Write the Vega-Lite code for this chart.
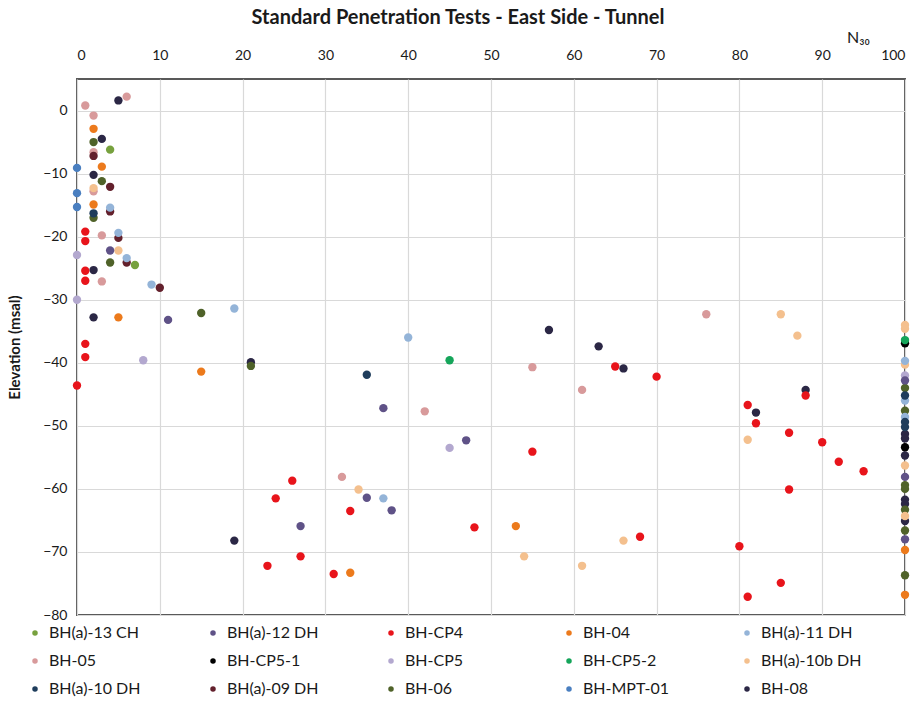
{
  "$schema": "https://vega.github.io/schema/vega-lite/v6.json",
  "width": 828,
  "height": 536,
  "autosize": {"type": "none"},
  "padding": {"left": 77, "top": 79, "right": 10, "bottom": 95},
  "background": "white",
  "title": {
    "text": "Standard Penetration Tests - East Side - Tunnel",
    "font": "Lato",
    "fontSize": 20,
    "fontWeight": "bold",
    "color": "#1a1a1a",
    "anchor": "middle",
    "frame": "group",
    "dx": -33,
    "offset": 1
  },
  "config": {
    "view": {"stroke": "#595959", "strokeWidth": 2},
    "font": "Lato"
  },
  "data": {
    "values": [
      {"s": "BH-CP5-1", "n": 100, "e": -36.9}, {"s": "BH-CP5-1", "n": 100, "e": -53.4},
      {"s": "BH-05", "n": 1, "e": 0.8}, {"s": "BH-05", "n": 6, "e": 2.2}, {"s": "BH-05", "n": 2, "e": -0.8}, {"s": "BH-05", "n": 2, "e": -6.6}, {"s": "BH-05", "n": 2, "e": -12.8}, {"s": "BH-05", "n": 3, "e": -19.8}, {"s": "BH-05", "n": 3, "e": -27.1}, {"s": "BH-05", "n": 32, "e": -58.1}, {"s": "BH-05", "n": 42, "e": -47.7}, {"s": "BH-05", "n": 55, "e": -40.7}, {"s": "BH-05", "n": 61, "e": -44.3}, {"s": "BH-05", "n": 76, "e": -32.3},
      {"s": "BH-08", "n": 5, "e": 1.6}, {"s": "BH-08", "n": 3, "e": -4.5}, {"s": "BH-08", "n": 2, "e": -10.2}, {"s": "BH-08", "n": 2, "e": -25.3}, {"s": "BH-08", "n": 2, "e": -32.8}, {"s": "BH-08", "n": 21, "e": -39.9}, {"s": "BH-08", "n": 19, "e": -68.2}, {"s": "BH-08", "n": 57, "e": -34.8}, {"s": "BH-08", "n": 63, "e": -37.4}, {"s": "BH-08", "n": 66, "e": -40.9}, {"s": "BH-08", "n": 88, "e": -44.3}, {"s": "BH-08", "n": 82, "e": -47.9}, {"s": "BH-08", "n": 100, "e": -51.3}, {"s": "BH-08", "n": 100, "e": -52}, {"s": "BH-08", "n": 100, "e": -54.7}, {"s": "BH-08", "n": 100, "e": -61.7}, {"s": "BH-08", "n": 100, "e": -62.4}, {"s": "BH-08", "n": 100, "e": -65.1},
      {"s": "BH-04", "n": 2, "e": -2.9}, {"s": "BH-04", "n": 3, "e": -8.9}, {"s": "BH-04", "n": 2, "e": -14.9}, {"s": "BH-04", "n": 5, "e": -32.8}, {"s": "BH-04", "n": 15, "e": -41.4}, {"s": "BH-04", "n": 53, "e": -65.9}, {"s": "BH-04", "n": 33, "e": -73.3}, {"s": "BH-04", "n": 100, "e": -69.7}, {"s": "BH-04", "n": 100, "e": -76.8},
      {"s": "BH-06", "n": 2, "e": -5}, {"s": "BH-06", "n": 3, "e": -11.2}, {"s": "BH-06", "n": 2, "e": -17}, {"s": "BH-06", "n": 4, "e": -24.1}, {"s": "BH-06", "n": 15, "e": -32.1}, {"s": "BH-06", "n": 21, "e": -40.5}, {"s": "BH-06", "n": 100, "e": -44}, {"s": "BH-06", "n": 100, "e": -47.6}, {"s": "BH-06", "n": 100, "e": -59.4}, {"s": "BH-06", "n": 100, "e": -60}, {"s": "BH-06", "n": 100, "e": -63.3}, {"s": "BH-06", "n": 100, "e": -66.6}, {"s": "BH-06", "n": 100, "e": -73.7},
      {"s": "BH(a)-13 CH", "n": 4, "e": -6.2}, {"s": "BH(a)-13 CH", "n": 7, "e": -24.5},
      {"s": "BH(a)-09 DH", "n": 2, "e": -7.2}, {"s": "BH(a)-09 DH", "n": 4, "e": -12.1}, {"s": "BH(a)-09 DH", "n": 4, "e": -16}, {"s": "BH(a)-09 DH", "n": 5, "e": -20.2}, {"s": "BH(a)-09 DH", "n": 6, "e": -24.1}, {"s": "BH(a)-09 DH", "n": 10, "e": -28.1},
      {"s": "BH-MPT-01", "n": 0, "e": -9.1}, {"s": "BH-MPT-01", "n": 0, "e": -13.1}, {"s": "BH-MPT-01", "n": 0, "e": -15.3},
      {"s": "BH(a)-10b DH", "n": 2, "e": -12.3}, {"s": "BH(a)-10b DH", "n": 5, "e": -22.2}, {"s": "BH(a)-10b DH", "n": 34, "e": -60.1}, {"s": "BH(a)-10b DH", "n": 54, "e": -70.7}, {"s": "BH(a)-10b DH", "n": 61, "e": -72.2}, {"s": "BH(a)-10b DH", "n": 85, "e": -32.3}, {"s": "BH(a)-10b DH", "n": 87, "e": -35.7}, {"s": "BH(a)-10b DH", "n": 81, "e": -52.2}, {"s": "BH(a)-10b DH", "n": 66, "e": -68.2}, {"s": "BH(a)-10b DH", "n": 100, "e": -34}, {"s": "BH(a)-10b DH", "n": 100, "e": -34.6}, {"s": "BH(a)-10b DH", "n": 100, "e": -40.3}, {"s": "BH(a)-10b DH", "n": 100, "e": -56.3}, {"s": "BH(a)-10b DH", "n": 100, "e": -64.3},
      {"s": "BH(a)-11 DH", "n": 4, "e": -15.4}, {"s": "BH(a)-11 DH", "n": 5, "e": -19.4}, {"s": "BH(a)-11 DH", "n": 6, "e": -23.4}, {"s": "BH(a)-11 DH", "n": 9, "e": -27.6}, {"s": "BH(a)-11 DH", "n": 19, "e": -31.4}, {"s": "BH(a)-11 DH", "n": 40, "e": -36}, {"s": "BH(a)-11 DH", "n": 37, "e": -61.5}, {"s": "BH(a)-11 DH", "n": 100, "e": -39.7}, {"s": "BH(a)-11 DH", "n": 100, "e": -46}, {"s": "BH(a)-11 DH", "n": 100, "e": -48.6},
      {"s": "BH(a)-10 DH", "n": 2, "e": -16.3}, {"s": "BH(a)-10 DH", "n": 35, "e": -41.9}, {"s": "BH(a)-10 DH", "n": 100, "e": -45.2}, {"s": "BH(a)-10 DH", "n": 100, "e": -49.4}, {"s": "BH(a)-10 DH", "n": 100, "e": -50.2},
      {"s": "BH-CP4", "n": 1, "e": -19.2}, {"s": "BH-CP4", "n": 1, "e": -20.7}, {"s": "BH-CP4", "n": 1, "e": -25.4}, {"s": "BH-CP4", "n": 1, "e": -27}, {"s": "BH-CP4", "n": 1, "e": -37}, {"s": "BH-CP4", "n": 1, "e": -39.1}, {"s": "BH-CP4", "n": 0, "e": -43.6}, {"s": "BH-CP4", "n": 55, "e": -54.1}, {"s": "BH-CP4", "n": 26, "e": -58.7}, {"s": "BH-CP4", "n": 24, "e": -61.5}, {"s": "BH-CP4", "n": 33, "e": -63.5}, {"s": "BH-CP4", "n": 48, "e": -66.1}, {"s": "BH-CP4", "n": 23, "e": -72.2}, {"s": "BH-CP4", "n": 27, "e": -70.7}, {"s": "BH-CP4", "n": 31, "e": -73.5}, {"s": "BH-CP4", "n": 65, "e": -40.6}, {"s": "BH-CP4", "n": 70, "e": -42.2}, {"s": "BH-CP4", "n": 88, "e": -45.2}, {"s": "BH-CP4", "n": 81, "e": -46.7}, {"s": "BH-CP4", "n": 82, "e": -49.6}, {"s": "BH-CP4", "n": 86, "e": -51.1}, {"s": "BH-CP4", "n": 90, "e": -52.6}, {"s": "BH-CP4", "n": 92, "e": -55.7}, {"s": "BH-CP4", "n": 95, "e": -57.2}, {"s": "BH-CP4", "n": 86, "e": -60.1}, {"s": "BH-CP4", "n": 68, "e": -67.6}, {"s": "BH-CP4", "n": 80, "e": -69.1}, {"s": "BH-CP4", "n": 85, "e": -74.9}, {"s": "BH-CP4", "n": 81, "e": -77.1},
      {"s": "BH-CP5", "n": 0, "e": -22.9}, {"s": "BH-CP5", "n": 0, "e": -30}, {"s": "BH-CP5", "n": 8, "e": -39.6}, {"s": "BH-CP5", "n": 45, "e": -53.5}, {"s": "BH-CP5", "n": 100, "e": -42},
      {"s": "BH(a)-12 DH", "n": 4, "e": -22.2}, {"s": "BH(a)-12 DH", "n": 11, "e": -33.2}, {"s": "BH(a)-12 DH", "n": 37, "e": -47.2}, {"s": "BH(a)-12 DH", "n": 47, "e": -52.3}, {"s": "BH(a)-12 DH", "n": 35, "e": -61.4}, {"s": "BH(a)-12 DH", "n": 38, "e": -63.4}, {"s": "BH(a)-12 DH", "n": 27, "e": -65.9}, {"s": "BH(a)-12 DH", "n": 100, "e": -42.8}, {"s": "BH(a)-12 DH", "n": 100, "e": -58.1}, {"s": "BH(a)-12 DH", "n": 100, "e": -68},
      {"s": "BH-CP5-2", "n": 45, "e": -39.6}, {"s": "BH-CP5-2", "n": 100, "e": -36.4}
    ]
  },
  "mark": {"type": "circle", "size": 70, "opacity": 1},
  "encoding": {
    "x": {
      "field": "n",
      "type": "quantitative",
      "scale": {"domain": [0, 100], "nice": false, "zero": false},
      "axis": {
        "orient": "top",
        "values": [0, 10, 20, 30, 40, 50, 60, 70, 80, 90, 100],
        "title": "N₃₀",
        "titleFont": "Lato",
        "titleFontSize": 16,
        "titleFontWeight": "normal",
        "titleColor": "#1a1a1a",
        "titleX": 781,
        "titleY": -42,
        "titleAlign": "center",
        "titleBaseline": "middle",
        "labelFont": "Lato",
        "labelFontSize": 14,
        "labelColor": "#1a1a1a",
        "labelPadding": 24,
        "labelBaseline": "middle",
        "ticks": false,
        "domain": false,
        "grid": true,
        "gridColor": "#d9d9d9",
        "gridWidth": 1.2
      }
    },
    "y": {
      "field": "e",
      "type": "quantitative",
      "scale": {"domain": [-80, 5], "nice": false, "zero": false},
      "axis": {
        "values": [0, -10, -20, -30, -40, -50, -60, -70, -80],
        "title": "Elevation (msal)",
        "titleFont": "Lato",
        "titleFontSize": 15,
        "titleFontWeight": "bold",
        "titleColor": "#1a1a1a",
        "titlePadding": 20,
        "labelFont": "Lato",
        "labelFontSize": 14,
        "labelColor": "#1a1a1a",
        "labelPadding": 10,
        "ticks": false,
        "domain": false,
        "grid": true,
        "gridColor": "#d9d9d9",
        "gridWidth": 1.2
      }
    },
    "color": {
      "field": "s",
      "type": "nominal",
      "scale": {
        "domain": ["BH(a)-13 CH", "BH(a)-12 DH", "BH-CP4", "BH-04", "BH(a)-11 DH", "BH-05", "BH-CP5-1", "BH-CP5", "BH-CP5-2", "BH(a)-10b DH", "BH(a)-10 DH", "BH(a)-09 DH", "BH-06", "BH-MPT-01", "BH-08"],
        "range": ["#77a13e", "#5f5287", "#e8141b", "#ec7a1c", "#94b4d8", "#d89a9b", "#000000", "#b3a8cf", "#15a55a", "#f4c08e", "#1f3d5c", "#63202c", "#4f6229", "#4a7fc0", "#2b2745"]
      },
      "legend": {
        "title": null,
        "orient": "none",
        "legendX": -50,
        "legendY": 546,
        "direction": "horizontal",
        "columns": 5,
        "gridAlign": "all",
        "columnPadding": 55,
        "rowPadding": 12,
        "symbolType": "circle",
        "symbolSize": 30,
        "labelFont": "Lato",
        "labelFontSize": 16,
        "labelColor": "#1a1a1a",
        "labelOffset": 6,
        "labelLimit": 200
      }
    }
  }
}
